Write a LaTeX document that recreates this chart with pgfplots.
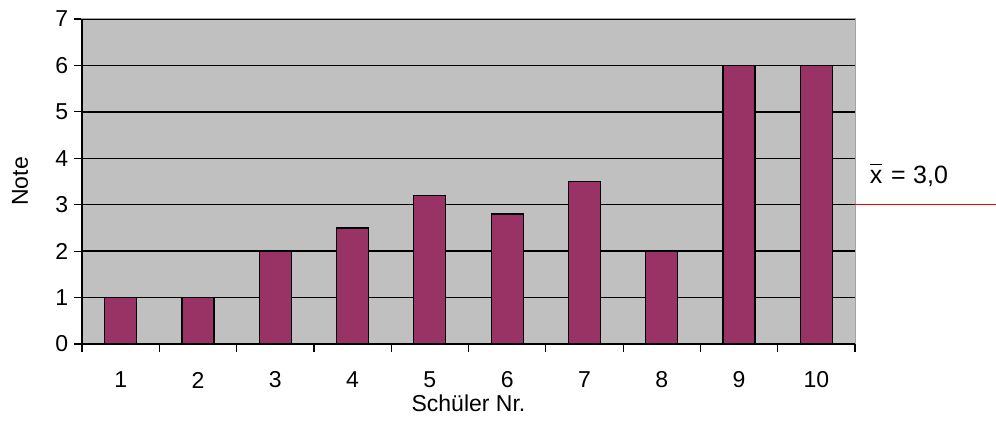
\documentclass[border=0pt]{standalone}
\usepackage{fontspec}
\setmainfont{Liberation Sans}
\usepackage{pgfplots}
\pgfplotsset{compat=1.18}
\definecolor{bargray}{RGB}{192,192,192}
\definecolor{barmaroon}{RGB}{153,51,102}
\begin{document}
\fontsize{23}{27}\selectfont
\begin{tikzpicture}
\begin{axis}[
  at={(0,0)}, anchor=south west,
  scale only axis,
  width=773pt, height=325pt,
  xmin=0.5, xmax=10.5, ymin=0, ymax=7,
  /pgf/number format/assume math mode=true,
  axis background/.style={fill=bargray},
  axis line style={draw=bargray!85!black, line width=1pt},
  xtick={1,...,10},
  minor xtick={0.5,1.5,...,10.5},
  major x tick style={draw=none},
  minor x tick style={black, line width=1.2pt},
  minor tick length=8pt,
  ytick={0,...,7},
  major tick length=8pt,
  y tick style={black, line width=1.2pt},
  tick align=outside,
  xtick pos=bottom, ytick pos=left,
  ymajorgrids,
  grid style={black, line width=1.4pt},
  xticklabel style={anchor=center, yshift=-28pt},
  yticklabel style={anchor=east, xshift=2pt},
  ticklabel style={font=\fontsize{23}{27}\selectfont},
  label style={font=\fontsize{23}{27}\selectfont},
  xlabel={Schüler Nr.},
  ylabel={Note},
  xlabel style={at={(axis description cs:0.5,-0.1815)}, anchor=center},
  ylabel style={at={(axis description cs:-0.0802,0.5)}, anchor=center},
  clip=false,
]
\addplot[ybar, bar width=32pt, fill=barmaroon, draw=black, line width=1.2pt]
  coordinates {(1,1) (2,1) (3,2) (4,2.5) (5,3.2) (6,2.8) (7,3.5) (8,2) (9,6) (10,6)};
\draw[black, line width=1.4pt] (rel axis cs:0,1) -- (rel axis cs:0,0) -- (rel axis cs:1,0);
\addplot[red, line width=1.2pt] coordinates {(10.5,3) (12.33,3)};
\node[anchor=west, inner sep=0pt, font=\fontsize{25}{29}\selectfont] at (axis cs:10.69,3.64) {$\overline{\mbox{x}\vphantom{lk}}$\hspace{0.35em}=\hspace{0.3em}3,0};
\end{axis}
\pgfresetboundingbox
\path (-82pt,-91pt) rectangle (914pt,344pt);
\end{tikzpicture}
\end{document}
